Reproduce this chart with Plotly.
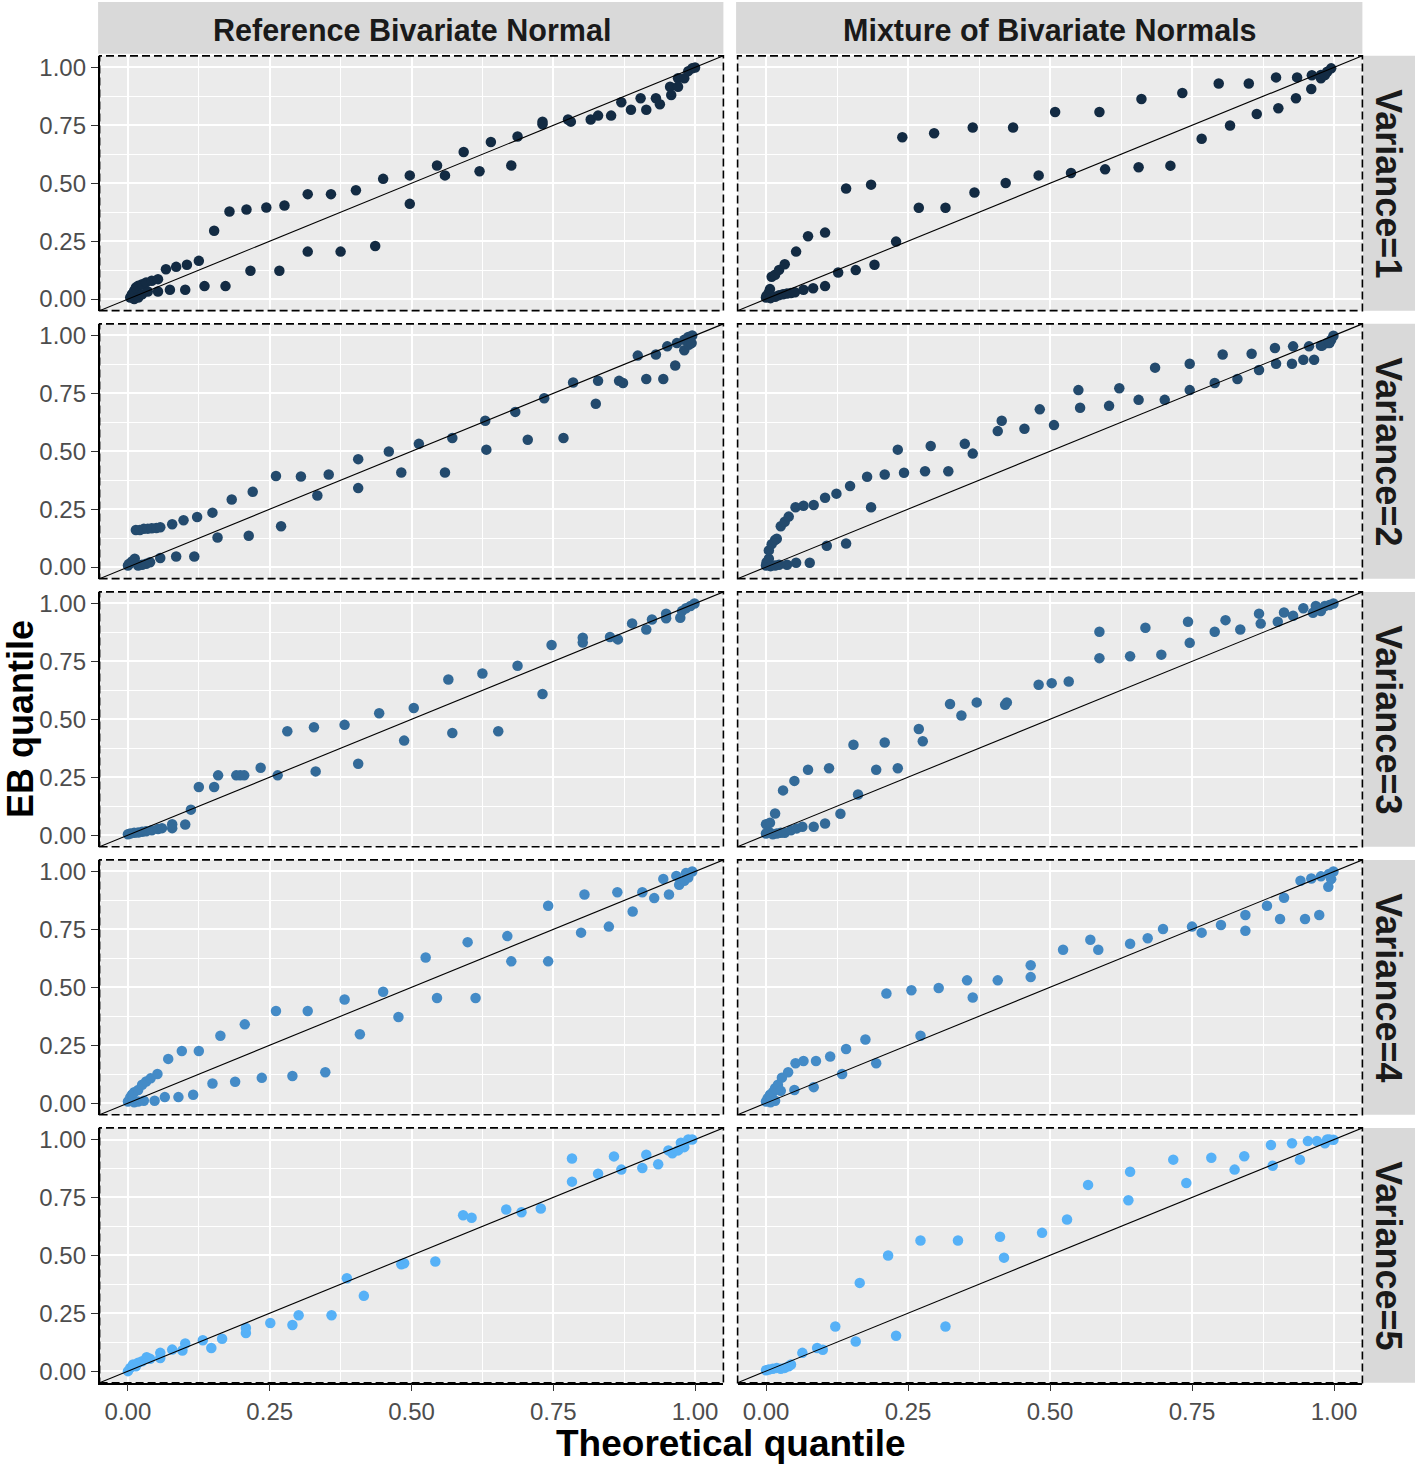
import plotly.graph_objects as go
from plotly.subplots import make_subplots

# ---------------- data ----------------
COLUMNS = ["Reference Bivariate Normal", "Mixture of Bivariate Normals"]
VARIANCES = [1, 2, 3, 4, 5]
VAR_COLORS = ["#132B43", "#234A6D", "#336A98", "#448BC7", "#56B1F7"]
TICKS = [0, 0.25, 0.5, 0.75, 1.0]
TICK_LABELS = ["0.00", "0.25", "0.50", "0.75", "1.00"]
MINOR_TICKS = [0.125, 0.375, 0.625, 0.875]
AXIS_RANGE = [-0.05, 1.05]
ABLINE_INTERCEPT = 0.0
ABLINE_SLOPE = 1.0

ref_v1_x = [0.004, 0.007, 0.011, 0.014, 0.018, 0.025, 0.032, 0.042, 0.053, 0.011, 0.018, 0.025, 0.035, 0.053, 0.074, 0.101, 0.135, 0.172,
            0.067, 0.085, 0.104, 0.125, 0.152, 0.179, 0.209, 0.244, 0.276, 0.317, 0.358, 0.402, 0.450, 0.497, 0.497, 0.545, 0.559, 0.592,
            0.620, 0.640, 0.676, 0.687, 0.731, 0.731, 0.776, 0.781, 0.816, 0.829, 0.852, 0.870, 0.887, 0.904, 0.914, 0.931, 0.938, 0.956,
            0.958, 0.970, 0.970, 0.981, 0.988, 0.995, 1.0, 0.216, 0.267, 0.317, 0.375, 0.436]
ref_v1_y = [0.007, 0.021, 0.036, 0.050, 0.057, 0.064, 0.072, 0.079, 0.086, 0.0, 0.007, 0.021, 0.033, 0.033, 0.040, 0.040, 0.056, 0.056,
            0.129, 0.139, 0.148, 0.165, 0.295, 0.378, 0.387, 0.395, 0.404, 0.453, 0.453, 0.470, 0.519, 0.534, 0.411, 0.577, 0.534, 0.635,
            0.552, 0.678, 0.577, 0.702, 0.766, 0.755, 0.775, 0.766, 0.775, 0.792, 0.792, 0.850, 0.817, 0.867, 0.817, 0.867, 0.841, 0.917,
            0.881, 0.953, 0.917, 0.953, 0.984, 0.996, 1.0, 0.122, 0.122, 0.205, 0.205, 0.229]

mix_v1_x = [0.0, 0.001, 0.005, 0.007, 0.008, 0.016, 0.023, 0.030, 0.037, 0.044, 0.051, 0.066, 0.083, 0.104,
            0.010, 0.016, 0.023, 0.033, 0.053, 0.074, 0.104, 0.141, 0.185, 0.240, 0.296, 0.364, 0.435, 0.509, 0.587, 0.661,
            0.733, 0.797, 0.850, 0.898, 0.935, 0.961, 0.977, 0.988, 0.995,
            0.127, 0.158, 0.191, 0.229, 0.269, 0.316, 0.367, 0.422, 0.480, 0.537, 0.597, 0.656, 0.712, 0.767, 0.817, 0.864,
            0.902, 0.933, 0.960, 0.977, 0.984]
mix_v1_y = [0.007, 0.014, 0.029, 0.043, 0.004, 0.010, 0.017, 0.021, 0.024, 0.026, 0.029, 0.040, 0.047, 0.056,
            0.096, 0.105, 0.126, 0.150, 0.205, 0.271, 0.287, 0.477, 0.494, 0.699, 0.716, 0.741, 0.741, 0.808, 0.808, 0.864,
            0.890, 0.931, 0.931, 0.957, 0.957, 0.966, 0.967, 0.981, 0.996,
            0.115, 0.125, 0.148, 0.248, 0.394, 0.394, 0.460, 0.501, 0.534, 0.544, 0.560, 0.569, 0.576, 0.692, 0.749, 0.799,
            0.824, 0.867, 0.907, 0.953, 0.967]

ref_v2_x = [0.0, 0.002, 0.007, 0.012, 0.018, 0.025, 0.032, 0.039, 0.057, 0.085, 0.117,
            0.014, 0.021, 0.028, 0.035, 0.042, 0.050, 0.057, 0.078, 0.098, 0.122, 0.149, 0.183, 0.220, 0.261, 0.305, 0.354,
            0.406, 0.460, 0.513, 0.572, 0.630, 0.683, 0.734, 0.785, 0.829, 0.899, 0.931, 0.951, 0.968, 0.981, 0.988, 0.995,
            0.158, 0.213, 0.270, 0.334, 0.406, 0.482, 0.559, 0.632, 0.705, 0.768, 0.825, 0.866, 0.873, 0.914, 0.944, 0.965,
            0.981, 0.989, 0.994]
ref_v2_y = [0.007, 0.014, 0.024, 0.036, 0.007, 0.010, 0.014, 0.021, 0.039, 0.046, 0.046,
            0.160, 0.160, 0.165, 0.166, 0.168, 0.169, 0.172, 0.185, 0.202, 0.216, 0.235, 0.292, 0.325, 0.393, 0.391, 0.400,
            0.466, 0.499, 0.532, 0.557, 0.632, 0.670, 0.729, 0.797, 0.804, 0.913, 0.918, 0.953, 0.967, 0.981, 0.993, 1.0,
            0.128, 0.135, 0.176, 0.309, 0.341, 0.408, 0.408, 0.507, 0.550, 0.557, 0.705, 0.804, 0.795, 0.812, 0.812, 0.870,
            0.936, 0.960, 0.967]

mix_v2_x = [0.0, 0.001, 0.005, 0.008, 0.016, 0.023, 0.037, 0.053, 0.077,
            0.005, 0.010, 0.016, 0.019, 0.026, 0.033, 0.040, 0.052, 0.066, 0.084, 0.104, 0.124, 0.148, 0.178, 0.209, 0.243,
            0.280, 0.321, 0.350, 0.364, 0.408, 0.415, 0.455, 0.482, 0.507, 0.550, 0.553, 0.604, 0.622, 0.656, 0.685, 0.702,
            0.746, 0.804, 0.855, 0.896, 0.928, 0.956, 0.977, 0.988, 0.995, 0.999,
            0.107, 0.141, 0.185, 0.232, 0.290, 0.746, 0.790, 0.830, 0.868, 0.898, 0.926, 0.946, 0.965, 0.979, 0.992]
mix_v2_y = [0.007, 0.021, 0.036, 0.004, 0.007, 0.010, 0.010, 0.019, 0.019,
            0.072, 0.099, 0.117, 0.122, 0.176, 0.196, 0.218, 0.258, 0.265, 0.268, 0.299, 0.317, 0.350, 0.390, 0.400, 0.407,
            0.414, 0.414, 0.532, 0.490, 0.587, 0.632, 0.597, 0.681, 0.613, 0.764, 0.688, 0.696, 0.772, 0.722, 0.861, 0.722,
            0.878, 0.918, 0.921, 0.946, 0.953, 0.953, 0.956, 0.967, 0.981, 0.999,
            0.092, 0.102, 0.258, 0.507, 0.523, 0.764, 0.795, 0.812, 0.851, 0.878, 0.878, 0.895, 0.895, 0.956, 0.967]

ref_v3_x = [0.0, 0.004, 0.011, 0.018, 0.025, 0.032, 0.042, 0.053, 0.060, 0.078, 0.078, 0.101, 0.111, 0.125, 0.152,
            0.159, 0.191, 0.198, 0.205, 0.234, 0.264, 0.281, 0.328, 0.331, 0.382, 0.406, 0.443, 0.487, 0.504, 0.565,
            0.572, 0.625, 0.653, 0.687, 0.731, 0.747, 0.802, 0.802, 0.850, 0.864, 0.889, 0.914, 0.924, 0.949, 0.949,
            0.974, 0.977, 0.984, 0.992, 0.999]
ref_v3_y = [0.004, 0.007, 0.010, 0.011, 0.014, 0.017, 0.021, 0.026, 0.030, 0.030, 0.047, 0.046, 0.110, 0.208, 0.208,
            0.258, 0.258, 0.258, 0.258, 0.291, 0.258, 0.448, 0.466, 0.275, 0.476, 0.308, 0.526, 0.408, 0.549, 0.672,
            0.441, 0.698, 0.448, 0.731, 0.609, 0.821, 0.852, 0.831, 0.855, 0.845, 0.914, 0.888, 0.931, 0.956, 0.936,
            0.938, 0.967, 0.979, 0.989, 1.0]

mix_v3_x = [0.0, 0.005, 0.012, 0.019, 0.026, 0.033, 0.044, 0.054, 0.064, 0.084, 0.104, 0.131, 0.162,
            0.0, 0.007, 0.016, 0.030, 0.050, 0.074, 0.111, 0.154, 0.194, 0.209, 0.232, 0.269, 0.276, 0.324, 0.344,
            0.371, 0.421, 0.424, 0.480, 0.503, 0.533, 0.587, 0.587, 0.641, 0.668, 0.696, 0.743, 0.746, 0.790, 0.809,
            0.835, 0.868, 0.871, 0.901, 0.912, 0.928, 0.946, 0.963, 0.968, 0.977, 0.984, 0.992, 0.999]
mix_v3_y = [0.007, 0.014, 0.004, 0.007, 0.010, 0.010, 0.021, 0.029, 0.036, 0.036, 0.050, 0.092, 0.175,
            0.047, 0.053, 0.093, 0.193, 0.234, 0.282, 0.289, 0.390, 0.282, 0.400, 0.289, 0.458, 0.405, 0.566, 0.516,
            0.573, 0.563, 0.573, 0.649, 0.656, 0.663, 0.878, 0.764, 0.772, 0.895, 0.779, 0.921, 0.830, 0.878, 0.928,
            0.888, 0.956, 0.913, 0.921, 0.961, 0.947, 0.979, 0.960, 0.989, 0.967, 0.989, 0.993, 1.0]

ref_v4_x = [0.0, 0.004, 0.007, 0.011, 0.018, 0.025, 0.032, 0.040, 0.052, 0.011, 0.018, 0.028, 0.047, 0.065, 0.089, 0.115,
            0.071, 0.095, 0.125, 0.163, 0.206, 0.261, 0.317, 0.382, 0.450, 0.525, 0.599, 0.669, 0.741, 0.805, 0.863, 0.907,
            0.944, 0.967, 0.984, 0.995,
            0.149, 0.189, 0.236, 0.290, 0.348, 0.409, 0.477, 0.545, 0.613, 0.676, 0.741, 0.799, 0.848, 0.890, 0.928, 0.954,
            0.972, 0.981, 0.988]
ref_v4_y = [0.007, 0.024, 0.036, 0.047, 0.057, 0.079, 0.093, 0.107, 0.126, 0.004, 0.007, 0.010, 0.010, 0.026, 0.026, 0.036,
            0.191, 0.225, 0.225, 0.291, 0.340, 0.398, 0.398, 0.447, 0.481, 0.629, 0.695, 0.721, 0.852, 0.901, 0.910, 0.910,
            0.968, 0.981, 0.993, 1.0,
            0.085, 0.092, 0.109, 0.117, 0.133, 0.297, 0.372, 0.454, 0.454, 0.612, 0.612, 0.736, 0.762, 0.827, 0.885, 0.901,
            0.943, 0.960, 0.974]

mix_v4_x = [0.0, 0.003, 0.007, 0.012, 0.016, 0.021, 0.028, 0.039, 0.008, 0.016, 0.026, 0.050, 0.084, 0.052, 0.066, 0.088,
            0.113, 0.141, 0.175, 0.134, 0.194, 0.212, 0.256, 0.304, 0.354, 0.364, 0.408, 0.272, 0.466, 0.466, 0.523, 0.571,
            0.585, 0.641, 0.672, 0.699, 0.750, 0.767, 0.801, 0.844, 0.844, 0.882, 0.905, 0.912, 0.941, 0.949, 0.960, 0.974,
            0.977, 0.990, 0.991, 0.995, 0.999]
mix_v4_y = [0.007, 0.021, 0.036, 0.047, 0.064, 0.079, 0.110, 0.133, 0.004, 0.010, 0.053, 0.057, 0.069, 0.172, 0.182, 0.182,
            0.201, 0.234, 0.275, 0.126, 0.172, 0.473, 0.487, 0.497, 0.530, 0.456, 0.530, 0.291, 0.595, 0.544, 0.662, 0.705,
            0.662, 0.688, 0.712, 0.752, 0.762, 0.736, 0.769, 0.812, 0.744, 0.852, 0.795, 0.887, 0.960, 0.795, 0.970, 0.812,
            0.979, 0.934, 0.989, 0.967, 1.0]

ref_v5_x = [0.0, 0.004, 0.009, 0.014, 0.018, 0.025, 0.033, 0.039, 0.057, 0.057, 0.078, 0.096, 0.101, 0.132, 0.147, 0.166,
            0.208, 0.208, 0.251, 0.290, 0.301, 0.359, 0.386, 0.416, 0.482, 0.487, 0.542, 0.591, 0.606, 0.667, 0.694, 0.728,
            0.783, 0.783, 0.829, 0.857, 0.870, 0.907, 0.914, 0.935, 0.953, 0.960, 0.970, 0.975, 0.981, 0.988, 0.995]
ref_v5_y = [0.0, 0.014, 0.029, 0.021, 0.036, 0.043, 0.060, 0.053, 0.079, 0.057, 0.093, 0.089, 0.119, 0.133, 0.100, 0.140,
            0.186, 0.165, 0.208, 0.199, 0.241, 0.241, 0.401, 0.325, 0.461, 0.466, 0.473, 0.673, 0.662, 0.698, 0.686, 0.702,
            0.818, 0.918, 0.852, 0.927, 0.870, 0.877, 0.934, 0.893, 0.953, 0.941, 0.953, 0.986, 0.967, 1.0, 1.0]

mix_v5_x = [0.0, 0.005, 0.012, 0.019, 0.026, 0.033, 0.040, 0.044, 0.064, 0.090, 0.100, 0.122, 0.158, 0.165, 0.215, 0.229,
            0.272, 0.316, 0.338, 0.412, 0.419, 0.486, 0.530, 0.567, 0.638, 0.641, 0.717, 0.740, 0.784, 0.825, 0.842, 0.889,
            0.892, 0.926, 0.940, 0.954, 0.970, 0.984, 0.988, 0.992, 0.999]
mix_v5_y = [0.004, 0.007, 0.010, 0.014, 0.010, 0.014, 0.021, 0.029, 0.079, 0.100, 0.092, 0.193, 0.128, 0.381, 0.499, 0.153,
            0.564, 0.193, 0.564, 0.580, 0.490, 0.597, 0.655, 0.804, 0.738, 0.861, 0.913, 0.812, 0.921, 0.870, 0.928, 0.976,
            0.887, 0.984, 0.913, 0.993, 0.993, 0.984, 1.0, 1.0, 0.999]

PANELS = [
    [(ref_v1_x, ref_v1_y), (mix_v1_x, mix_v1_y)],
    [(ref_v2_x, ref_v2_y), (mix_v2_x, mix_v2_y)],
    [(ref_v3_x, ref_v3_y), (mix_v3_x, mix_v3_y)],
    [(ref_v4_x, ref_v4_y), (mix_v4_x, mix_v4_y)],
    [(ref_v5_x, ref_v5_y), (mix_v5_x, mix_v5_y)],
]

# ---------------- layout geometry (pixels) ----------------
W, H = 1415, 1467
COL_X = [(99.6, 723.4), (737.6, 1362.4)]
ROW_TOP0, ROW_STEP, ROW_H = 54.0, 268.75, 255.5
STRIP_TOP = (0, 52)
STRIP_RIGHT = (1363, 1415)

FONT = "Liberation Sans, Arial, sans-serif"
PANEL_BG = "#EBEBEB"
STRIP_BG = "#D9D9D9"

fig = make_subplots(rows=5, cols=2)


def px_x(v):
    return v / W


def px_y(v):
    return 1 - v / H


shapes = []
annotations = []

for r in range(5):
    top = ROW_TOP0 + ROW_STEP * r
    bot = top + ROW_H
    for c in range(2):
        xs, ys = PANELS[r][c]
        fig.add_trace(go.Scatter(
            x=xs, y=ys, mode="markers",
            marker=dict(size=10.5, color=VAR_COLORS[r], line=dict(width=0)),
            hoverinfo="skip", showlegend=False), row=r + 1, col=c + 1)
        ab_x = AXIS_RANGE
        ab_y = [ABLINE_INTERCEPT + ABLINE_SLOPE * v for v in ab_x]
        fig.add_trace(go.Scatter(
            x=ab_x, y=ab_y, mode="lines",
            line=dict(color="black", width=1.1),
            hoverinfo="skip", showlegend=False), row=r + 1, col=c + 1)

        idx = r * 2 + c + 1
        sfx = "" if idx == 1 else str(idx)
        last_row = (r == 4)
        first_col = (c == 0)
        fig.layout["xaxis" + sfx].update(
            domain=[px_x(COL_X[c][0]), px_x(COL_X[c][1])],
            range=AXIS_RANGE, tickvals=TICKS, ticktext=TICK_LABELS,
            showgrid=True, gridcolor="white", gridwidth=1.8, zeroline=False,
            minor=dict(tickvals=MINOR_TICKS, showgrid=True, gridcolor="white", gridwidth=0.9),
            showticklabels=last_row, ticks="outside" if last_row else "",
            ticklen=7, tickwidth=1.4, tickcolor="#333333",
            showline=last_row, linecolor="black", linewidth=1.5,
            tickfont=dict(family=FONT, size=24, color="#4D4D4D"),
            fixedrange=True)
        fig.layout["yaxis" + sfx].update(
            domain=[px_y(bot), px_y(top)],
            range=AXIS_RANGE, tickvals=TICKS, ticktext=TICK_LABELS,
            showgrid=True, gridcolor="white", gridwidth=1.8, zeroline=False,
            minor=dict(tickvals=MINOR_TICKS, showgrid=True, gridcolor="white", gridwidth=0.9),
            showticklabels=first_col, ticks="outside" if first_col else "",
            ticklen=7, tickwidth=1.4, tickcolor="#333333",
            showline=first_col, linecolor="black", linewidth=1.5,
            tickfont=dict(family=FONT, size=24, color="#4D4D4D"),
            fixedrange=True)
        # dashed panel border
        shapes.append(dict(type="rect", xref=f"x{sfx} domain", yref=f"y{sfx} domain",
                           x0=0, x1=1, y0=0, y1=1, layer="above",
                           line=dict(color="black", width=1.6, dash="8px,4px")))

    # right strip
    shapes.append(dict(type="rect", xref="paper", yref="paper",
                       x0=px_x(STRIP_RIGHT[0]), x1=px_x(STRIP_RIGHT[1]),
                       y0=px_y(bot), y1=px_y(top), fillcolor=STRIP_BG, line=dict(width=0), layer="below"))
    annotations.append(dict(text=f"Variance={VARIANCES[r]}", xref="paper", yref="paper",
                            x=px_x((STRIP_RIGHT[0] + STRIP_RIGHT[1]) / 2), y=px_y((top + bot) / 2),
                            showarrow=False, textangle=90, xanchor="center", yanchor="middle",
                            font=dict(family=FONT, size=36, color="#1A1A1A", weight="bold")))

for c in range(2):
    shapes.append(dict(type="rect", xref="paper", yref="paper",
                       x0=px_x(COL_X[c][0] - 1.5), x1=px_x(COL_X[c][1]),
                       y0=px_y(STRIP_TOP[1]), y1=px_y(STRIP_TOP[0]),
                       fillcolor=STRIP_BG, line=dict(width=0), layer="below"))
    annotations.append(dict(text=COLUMNS[c], xref="paper", yref="paper",
                            x=px_x((COL_X[c][0] + COL_X[c][1]) / 2), y=px_y(28),
                            showarrow=False, xanchor="center", yanchor="middle",
                            font=dict(family=FONT, size=30.5, color="#1A1A1A", weight="bold")))

annotations.append(dict(text="Theoretical quantile", xref="paper", yref="paper",
                        x=px_x((COL_X[0][0] + COL_X[1][1]) / 2), y=px_y(1445),
                        showarrow=False, xanchor="center", yanchor="middle",
                        font=dict(family=FONT, size=37, color="black", weight="bold")))
annotations.append(dict(text="EB quantile", xref="paper", yref="paper",
                        x=px_x(20), y=px_y(719), textangle=-90,
                        showarrow=False, xanchor="center", yanchor="middle",
                        font=dict(family=FONT, size=36, color="black", weight="bold")))

fig.update_layout(
    width=W, height=H, margin=dict(l=0, r=0, t=0, b=0),
    paper_bgcolor="white", plot_bgcolor=PANEL_BG,
    showlegend=False, shapes=shapes, annotations=annotations,
)

# remove the browser's default 8px page margin so the figure starts at the window corner
fig.write_html("out.html",
               config={"displayModeBar": False},
               post_script="document.body.style.margin='0';document.body.style.overflow='hidden';")
